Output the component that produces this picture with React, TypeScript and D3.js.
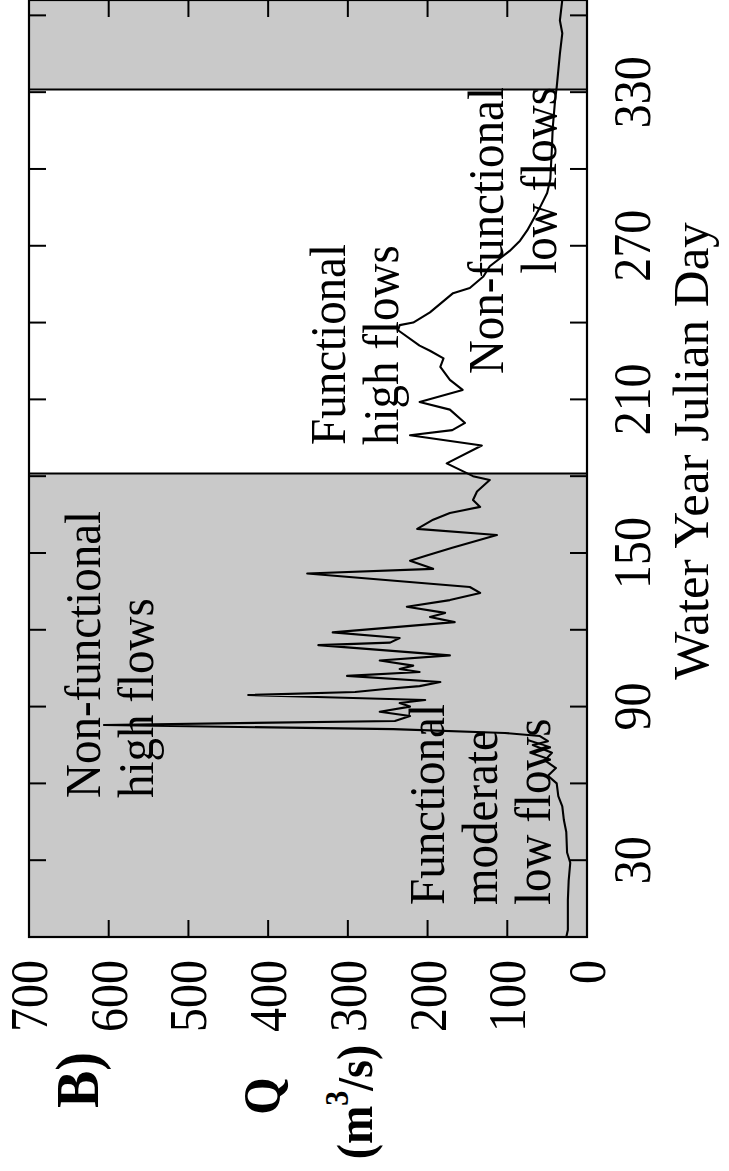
import React from "react";
import * as d3 from "d3";

// Water year julian day and discharge Q (m3/s)
const days = [0,2.7,14.5,22,29,33,41,45.7,51,55,60,63,66,69,72,75,76.5,78.5,79.7,81.2,82.8,84.4,86.3,88,90,91.4,92.6,94.5,95.7,96.9,98,99.6,102,103.5,104.7,106,108,110,114,115,116.8,119,123,125,126.6,129,131.6,134.4,136.7,142,143.8,147,149,152,157,159.4,163,165.6,168,170.7,174,178.5,180,185,192,196,198,200.8,206,209,213.7,217.6,222.7,226,229,231,237,239,240,244,251.5,253.5,258,262,268,272,276,285,290.6,296,308.6,316,327,332,345,353,358,366];
const flows = [26,24,24,23,21,25,26,29,31,36,38,49,39,53,44,68,49,59,103,243,606,241,222,260,222,235,203,425,291,253,210,184,301,210,235,218,260,172,337,247,235,319,166,197,178,226,172,134,147,351,193,222,201,169,113,213,193,172,134,143,138,122,143,176,132,222,169,153,172,210,156,172,184,180,197,210,237,235,218,197,168,147,130,122,97,84,75,59,50,46,44,43,40,38,34,31,34,31];

const greyBands: [number, number][] = [[0, 181], [331, 366]];
const dayTicks = [30, 60, 90, 120, 150, 180, 210, 240, 270, 300, 330, 360];
const dayLabels = [30, 90, 150, 210, 270, 330];
const qTicks = [100, 200, 300, 400, 500, 600];
const qLabels = [0, 100, 200, 300, 400, 500, 600, 700];

type Note = { lines: string[]; day: number; anchor: "start" | "end"; q0: number };
const notes: Note[] = [
  { lines: ["Non-functional", "high flows"], day: 54.3, anchor: "start", q0: 611 },
  { lines: ["Functional", "moderate", "low flows"], day: 12.5, anchor: "start", q0: 180 },
  { lines: ["Functional", "high flows"], day: 192.2, anchor: "start", q0: 303 },
  { lines: ["Non-functional", "low flows"], day: 332, anchor: "end", q0: 105 },
];

const FONT = "'Liberation Serif', 'Times New Roman', Times, serif";
const U = 937;

export default function App() {
  const x = d3.scaleLinear().domain([0, 366]).range([0, U]);
  const y = d3.scaleLinear().domain([0, 700]).range([587, 29]);
  const line = d3
    .line<number>()
    .x((_, i) => x(days[i]))
    .y((d) => y(d))
    .curve(d3.curveLinear);
  const tickLen = 17;
  const lineGap = 53;
  return (
    <svg
      width={729}
      height={1171}
      style={{ position: "absolute", left: 0, top: 0, background: "#fff" }}
    >
      <g transform={`translate(0,${U}) rotate(-90)`} fontFamily={FONT}>
        {greyBands.map(([a, b], i) => (
          <rect key={i} x={x(a)} y={y(700)} width={x(b) - x(a)} height={y(0) - y(700)} fill="#c9c9c9" />
        ))}
        {greyBands.map(([a, b], i) => (
          <g key={"bl" + i}>
            {a > 0 && <line x1={x(a)} x2={x(a)} y1={y(0)} y2={y(700)} stroke="#000" strokeWidth={2} />}
            {b < 366 && <line x1={x(b)} x2={x(b)} y1={y(0)} y2={y(700)} stroke="#000" strokeWidth={2} />}
          </g>
        ))}
        {notes.map((n, i) => (
          <g key={"n" + i}>
            {n.lines.map((t, j) => (
              <text
                key={j}
                transform={`translate(${x(n.day)},${y(n.q0) + j * lineGap}) scale(1,1.1)`}
                textAnchor={n.anchor}
                fontSize={47}
                fill="#000"
              >
                {t}
              </text>
            ))}
          </g>
        ))}
        <path d={line(flows) || ""} fill="none" stroke="#000" strokeWidth={2.1} strokeLinejoin="round" />
        {/* frame */}
        <rect x={0} y={y(700)} width={U} height={y(0) - y(700)} fill="none" stroke="#000" strokeWidth={2.2} />
        {/* day ticks on both Q sides */}
        {dayTicks.map((d) => (
          <g key={"dt" + d}>
            <line x1={x(d)} x2={x(d)} y1={y(0)} y2={y(0) - tickLen} stroke="#000" strokeWidth={2} />
            <line x1={x(d)} x2={x(d)} y1={y(700)} y2={y(700) + tickLen} stroke="#000" strokeWidth={2} />
          </g>
        ))}
        {qTicks.map((q) => (
          <g key={"qt" + q}>
            <line x1={0} x2={tickLen} y1={y(q)} y2={y(q)} stroke="#000" strokeWidth={2} />
            <line x1={U} x2={U - tickLen} y1={y(q)} y2={y(q)} stroke="#000" strokeWidth={2} />
          </g>
        ))}
        {dayLabels.map((d) => (
          <text
            key={"dl" + d}
            transform={`translate(${x(d)},${650}) scale(1,1.1)`}
            textAnchor="middle"
            fontSize={48}
          >
            {d}
          </text>
        ))}
        {qLabels.map((q) => (
          <text
            key={"ql" + q}
            transform={`translate(${-23},${y(q) + 18}) scale(1,1.1)`}
            textAnchor="end"
            fontSize={48}
          >
            {q}
          </text>
        ))}
        <text transform={`translate(${486},${708})`} textAnchor="middle" fontSize={51}>
          Water Year Julian Day
        </text>
        <text transform={`translate(${-143},${98}) scale(1,1.1)`} textAnchor="middle" fontSize={56} fontWeight="bold">
          B)
        </text>
        <text transform={`translate(${-159},${280}) scale(1,1.1)`} textAnchor="middle" fontSize={48} fontWeight="bold">
          Q
        </text>
        <text transform={`translate(${-165},${372}) scale(1,1.1)`} textAnchor="middle" fontSize={46} fontWeight="bold">
          (m<tspan fontSize={30} dy={-22}>3</tspan>
          <tspan dy={22}>/s)</tspan>
        </text>
      </g>
    </svg>
  );
}
